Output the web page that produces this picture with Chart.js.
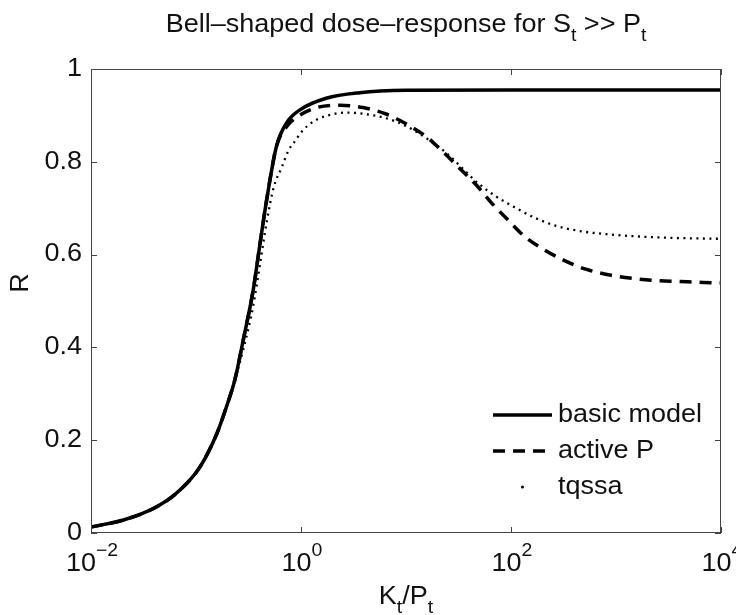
<!DOCTYPE html>
<html>
<head>
<meta charset="utf-8">
<script src="https://cdn.jsdelivr.net/npm/chart.js@4.4.0/dist/chart.umd.min.js"></script>
<style>
  html, body { margin: 0; padding: 0; background: #fff; }
  #wrap { width: 736px; height: 615px; position: relative; }
</style>
</head>
<body>
<div id="wrap"><canvas id="dose-chart"></canvas></div>
<script>
// x axis (K_t/P_t, log) and tick labels
const xTickValues = [0.01, 1, 100, 10000];
const xTickExponents = ['\u22122', '0', '2', '4'];
const yTickValues = [0, 0.2, 0.4, 0.6, 0.8, 1];
const yTickLabels = ['0', '0.2', '0.4', '0.6', '0.8', '1'];

// basic model
const basicK = [0.01, 0.0204, 0.0427, 0.0708, 0.1096, 0.1585, 0.195, 0.2344, 0.2818, 0.3508,
                0.4074, 0.471, 0.5834, 0.7244, 0.977, 1.738, 3.631, 10, 100, 10000];
const basicR = [0.013, 0.028, 0.057, 0.093, 0.143, 0.215, 0.272, 0.33, 0.416, 0.524,
                0.624, 0.718, 0.833, 0.883, 0.912, 0.937, 0.949, 0.954, 0.955, 0.955];

// active P
const activeK = [0.01, 0.0204, 0.0427, 0.0708, 0.1096, 0.1585, 0.195, 0.2344, 0.2818, 0.3508,
                 0.4074, 0.471, 0.5834, 0.7244, 0.912, 1.413, 2.344, 3.89, 6.457, 10,
                 15.85, 22.39, 32.36, 46.77, 66.07, 93.33, 134.9, 208.9, 323.6, 524.8,
                 871, 1413, 2455, 4074, 6761, 10000];
const activeR = [0.013, 0.028, 0.057, 0.093, 0.143, 0.215, 0.272, 0.33, 0.416, 0.524,
                 0.624, 0.718, 0.833, 0.875, 0.896, 0.917, 0.922, 0.917, 0.903, 0.882,
                 0.853, 0.822, 0.786, 0.75, 0.71, 0.675, 0.639, 0.61, 0.587, 0.568,
                 0.556, 0.549, 0.544, 0.542, 0.54, 0.539];

// tqssa
const tqssaK = [0.01, 0.0204, 0.0427, 0.0708, 0.1096, 0.1585, 0.195, 0.2344, 0.2818, 0.3508,
                0.4074, 0.471, 0.5495, 0.6607, 0.7586, 0.881, 1.016, 1.318, 1.738, 2.692,
                4.074, 6.457, 10, 15.85, 24.55, 33.11, 46.77, 72.44, 112.2, 173.8,
                269.2, 446.7, 812.8, 1660, 3467, 10000];
const tqssaR = [0.013, 0.028, 0.057, 0.093, 0.143, 0.215, 0.272, 0.33, 0.395, 0.49,
                0.58, 0.67, 0.745, 0.79, 0.824, 0.845, 0.865, 0.887, 0.899, 0.906,
                0.903, 0.894, 0.877, 0.85, 0.818, 0.79, 0.757, 0.725, 0.70, 0.678,
                0.662, 0.651, 0.644, 0.639, 0.636, 0.634];

const FONT = '"Liberation Sans", Helvetica, Arial, sans-serif';
const FS = 25;       // text size
const SX = 1.08;     // the reference text is a little wide

function toPoints(xs, ys) {
  return xs.map((x, i) => ({ x: x, y: ys[i] }));
}

// draws text made of pieces: [text, 0 normal | -1 subscript | 1 superscript]
function drawRich(ctx, parts, x, y, size, align) {
  const small = Math.round(size * 0.72);
  let total = 0;
  const widths = parts.map(p => {
    ctx.font = (p[1] === 0 ? size : small) + 'px ' + FONT;
    const w = ctx.measureText(p[0]).width * SX;
    total += w;
    return w;
  });
  let cx = align === 'center' ? x - total / 2 : (align === 'right' ? x - total : x);
  ctx.textBaseline = 'middle';
  ctx.textAlign = 'left';
  parts.forEach((p, i) => {
    ctx.font = (p[1] === 0 ? size : small) + 'px ' + FONT;
    let dy = 0;
    if (p[1] === -1) dy = size * 0.45;
    if (p[1] === 1) dy = -size * 0.5;
    ctx.save();
    ctx.translate(cx, y + dy);
    ctx.scale(SX, 1);
    ctx.fillText(p[0], 0, 0);
    ctx.restore();
    cx += widths[i];
  });
}

const matlabFrame = {
  id: 'matlabFrame',
  afterDraw(chart) {
    const ctx = chart.ctx;
    const a = chart.chartArea;
    const xs = chart.scales.x;
    const ys = chart.scales.y;
    ctx.save();

    // axes box
    ctx.strokeStyle = '#444';
    ctx.lineWidth = 1;
    ctx.strokeRect(a.left + 0.5, a.top + 0.5, a.right - a.left - 1, a.bottom - a.top - 1);

    // inward tick marks
    ctx.beginPath();
    xTickValues.forEach(v => {
      const px = Math.round(xs.getPixelForValue(v)) + 0.5;
      ctx.moveTo(px, a.bottom); ctx.lineTo(px, a.bottom - 6);
      ctx.moveTo(px, a.top); ctx.lineTo(px, a.top + 6);
    });
    yTickValues.forEach(v => {
      const py = Math.round(ys.getPixelForValue(v)) + 0.5;
      ctx.moveTo(a.left, py); ctx.lineTo(a.left + 6, py);
      ctx.moveTo(a.right, py); ctx.lineTo(a.right - 6, py);
    });
    ctx.stroke();

    ctx.fillStyle = '#111';
    // y tick labels
    yTickValues.forEach((v, i) => {
      drawRich(ctx, [[yTickLabels[i], 0]], a.left - 9, ys.getPixelForValue(v), FS, 'right');
    });
    // x tick labels 10^n
    xTickValues.forEach((v, i) => {
      const px = xs.getPixelForValue(v);
      drawRich(ctx, [['10', 0], [xTickExponents[i], 1]], px + 1, 564, FS, 'center');
    });

    // axis titles
    drawRich(ctx, [['K', 0], ['t', -1], ['/P', 0], ['t', -1]], (a.left + a.right) / 2, 597, FS, 'center');
    ctx.save();
    ctx.translate(21, 283);
    ctx.rotate(-Math.PI / 2);
    drawRich(ctx, [['R', 0]], 0, 0, FS, 'center');
    ctx.restore();

    // title
    drawRich(ctx, [['Bell\u2013shaped dose\u2013response for S', 0], ['t', -1], [' >> P', 0], ['t', -1]],
      (a.left + a.right) / 2, 25, FS, 'center');

    // legend inside the axes, lower right
    const lx0 = a.left + 402, lx1 = a.left + 461, tx = a.left + 467;
    const rows = [415, 451, 487];
    ctx.strokeStyle = '#000';
    ctx.lineWidth = 3.5;
    ctx.setLineDash([]);
    ctx.beginPath(); ctx.moveTo(lx0, rows[0]); ctx.lineTo(lx1, rows[0]); ctx.stroke();
    ctx.setLineDash([12, 8]);
    ctx.beginPath(); ctx.moveTo(lx0, rows[1]); ctx.lineTo(lx1, rows[1]); ctx.stroke();
    ctx.setLineDash([]);
    ctx.fillStyle = '#000';
    ctx.beginPath(); ctx.arc((lx0 + lx1) / 2, rows[2], 1.5, 0, Math.PI * 2); ctx.fill();
    ctx.fillStyle = '#111';
    drawRich(ctx, [['basic model', 0]], tx, rows[0], FS, 'left');
    drawRich(ctx, [['active P', 0]], tx, rows[1], FS, 'left');
    drawRich(ctx, [['tqssa', 0]], tx, rows[2], FS, 'left');

    ctx.restore();
  }
};

const ctx = document.getElementById('dose-chart').getContext('2d');

const doseChart = new Chart(ctx, {
  type: 'line',
  data: {
    datasets: [
      {
        label: 'basic model',
        data: toPoints(basicK, basicR),
        borderColor: '#000',
        borderWidth: 3.5,
        pointRadius: 0,
        cubicInterpolationMode: 'monotone',
        fill: false
      },
      {
        label: 'active P',
        data: toPoints(activeK, activeR),
        borderColor: '#000',
        borderWidth: 3.5,
        borderDash: [12, 8],
        pointRadius: 0,
        cubicInterpolationMode: 'monotone',
        fill: false
      },
      {
        label: 'tqssa',
        data: toPoints(tqssaK, tqssaR),
        borderColor: '#000',
        borderWidth: 2.3,
        borderDash: [2, 4.5],
        pointRadius: 0,
        cubicInterpolationMode: 'monotone',
        fill: false
      }
    ]
  },
  options: {
    responsive: true,
    maintainAspectRatio: false,
    animation: false,
    layout: {
      padding: { left: 0, top: 69, right: 15, bottom: 0 }
    },
    plugins: {
      legend: { display: false },
      tooltip: { enabled: false }
    },
    scales: {
      x: {
        type: 'logarithmic',
        min: 0.01,
        max: 10000,
        grid: { display: false },
        border: { display: false },
        ticks: { display: false },
        afterBuildTicks: scale => {
          scale.ticks = xTickValues.map(v => ({ value: v }));
        },
        afterFit: scale => { scale.height = 82; }
      },
      y: {
        min: 0,
        max: 1,
        grid: { display: false, drawTicks: false },
        border: { display: false },
        ticks: { display: false, stepSize: 0.2 },
        afterFit: scale => { scale.width = 91; }
      }
    }
  },
  plugins: [matlabFrame]
});
</script>
</body>
</html>
